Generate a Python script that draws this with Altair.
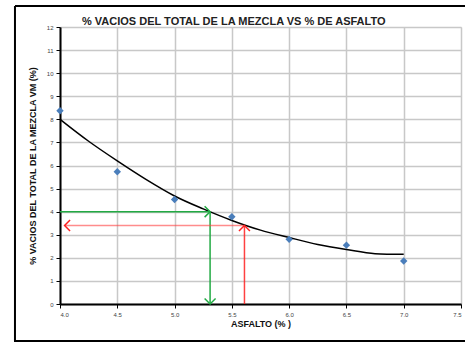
import altair as alt
import pandas as pd

TITLE = "% VACIOS DEL TOTAL DE LA MEZCLA VS % DE ASFALTO"

# measured points
asfalto = [4.0, 4.5, 5.0, 5.5, 6.0, 6.5, 7.0]
vacios = [8.37, 5.73, 4.53, 3.78, 2.80, 2.55, 1.86]

# trend curve
curve_x = [4.0, 4.25, 4.5, 4.75, 5.0, 5.25, 5.5, 5.75, 6.0, 6.25, 6.5, 6.75, 7.0]
curve_y = [8.0, 7.05, 6.2, 5.4, 4.68, 4.12, 3.62, 3.2, 2.88, 2.58, 2.36, 2.18, 2.15]

# reading arrows
green_h_x = [4.0, 5.31]
green_h_y = [4.0, 4.0]
green_v_x = [5.31, 5.31]
green_v_y = [4.0, 0.0]
red_v_x = [5.61, 5.61]
red_v_y = [0.0, 3.4]
red_h_x = [5.61, 4.04]
red_h_y = [3.4, 3.4]

x_ticks = [4.0 + 0.25 * i for i in range(15)]
y_ticks = list(range(13))

FONT = "Liberation Sans"

xs = alt.Scale(domain=[4.0, 7.5], nice=False, zero=False)
ys = alt.Scale(domain=[0, 12], nice=False)

xax = alt.Axis(values=x_ticks, labelExpr="(datum.value*4) % 2 == 0 ? format(datum.value, '.1f') : ''",
               title="ASFALTO (% )", titleFont=FONT, titleFontSize=9, titleFontWeight="bold",
               titleColor="#111", titlePadding=2, labelFont=FONT, labelFontSize=6, labelColor="#444",
               labelPadding=3, labelOverlap=False, tickSize=4, tickColor="black", domainColor="black",
               domainWidth=2, grid=True, gridColor="#c8c8c8", gridWidth=1.5)
yax = alt.Axis(values=y_ticks, format="d", title="% VACIOS DEL TOTAL DE LA MEZCLA VM (%)",
               titleFont=FONT, titleFontSize=9, titleFontWeight="bold", titleColor="#111",
               titlePadding=9, labelFont=FONT, labelFontSize=6, labelColor="#444", labelPadding=3,
               labelOverlap=False, tickSize=4, tickColor="black", domainColor="black", domainWidth=2,
               grid=True, gridColor="#c8c8c8", gridWidth=1.5)

X = alt.X("x:Q", scale=xs, axis=xax)
Y = alt.Y("y:Q", scale=ys, axis=yax)

pts_df = pd.DataFrame({"x": asfalto, "y": vacios})
curve_df = pd.DataFrame({"x": curve_x, "y": curve_y})
one = pd.DataFrame({"a": [0]})


def seg(xv, yv):
    return pd.DataFrame({"x": xv, "y": yv, "o": list(range(len(xv)))})


# outer frame (decoration) - try different approaches
frame_top = alt.Chart(one).mark_rule(color="black", strokeWidth=2).encode(
    x=alt.value(-45), x2=alt.value(410), y=alt.value(-21))
frame_left = alt.Chart(one).mark_rule(color="black", strokeWidth=2).encode(
    x=alt.XDatum(3.607), y=alt.value(-21), y2=alt.value(314))
frame_bottom = alt.Chart(one).mark_rect(color="black").encode(
    x=alt.value(-46), x2=alt.value(410), y=alt.value(313), y2=alt.value(315))

title = alt.Chart(pd.DataFrame({"t": [TITLE]})).mark_text(
    font=FONT, fontSize=11, fontWeight="bold", color="#222", align="left", baseline="bottom"
).encode(text="t:N", x=alt.value(22), y=alt.value(0))


def line(df, color, width=1.5, opacity=1.0):
    return alt.Chart(df).mark_line(color=color, strokeWidth=width, opacity=opacity).encode(
        x=X, y=Y, order="o:Q")


def head(xv, yv, shape, color, opacity=1.0):
    df = pd.DataFrame({"x": [xv], "y": [yv]})
    return alt.Chart(df).mark_point(shape=shape, filled=False, color=color, size=120,
                                    strokeWidth=1.5, opacity=opacity).encode(x=X, y=Y)


right = "M-1,-1L0,0L-1,1"
left = "M1,-1L0,0L1,1"
up = "M-1,1L0,0L1,1"
down = "M-1,-1L0,0L1,-1"

curve = alt.Chart(curve_df).mark_line(color="black", strokeWidth=1.5, interpolate="monotone").encode(
    x=X, y=Y)
points = alt.Chart(pts_df).mark_point(shape="diamond", filled=True, color="#4a7ebb", size=55, opacity=1).encode(
    x=X, y=Y)

chart = alt.layer(
    curve,
    line(seg(green_h_x, green_h_y), "#22aa44"),
    line(seg(green_v_x, green_v_y), "#22aa44"),
    line(seg(red_v_x, red_v_y), "#ff2020", opacity=0.85),
    line(seg(red_h_x, red_h_y), "#ff4040", opacity=0.6),
    head(green_h_x[1], green_h_y[1], right, "#22aa44"),
    head(green_v_x[1], green_v_y[1], down, "#22aa44"),
    head(red_v_x[1], red_v_y[1], up, "#ff2020"),
    head(red_h_x[1], red_h_y[1], left, "#ff2020"),
    points,
    title,
    frame_top, frame_left, frame_bottom,
).properties(
    width=401, height=277,
    autosize=alt.AutoSizeParams(type="none"),
    padding={"left": 60, "top": 27, "right": 4, "bottom": 39},
).configure_view(stroke="black", strokeWidth=2).configure(background="white")

chart.save("out.html", embed_options={"renderer": "svg", "actions": False})
